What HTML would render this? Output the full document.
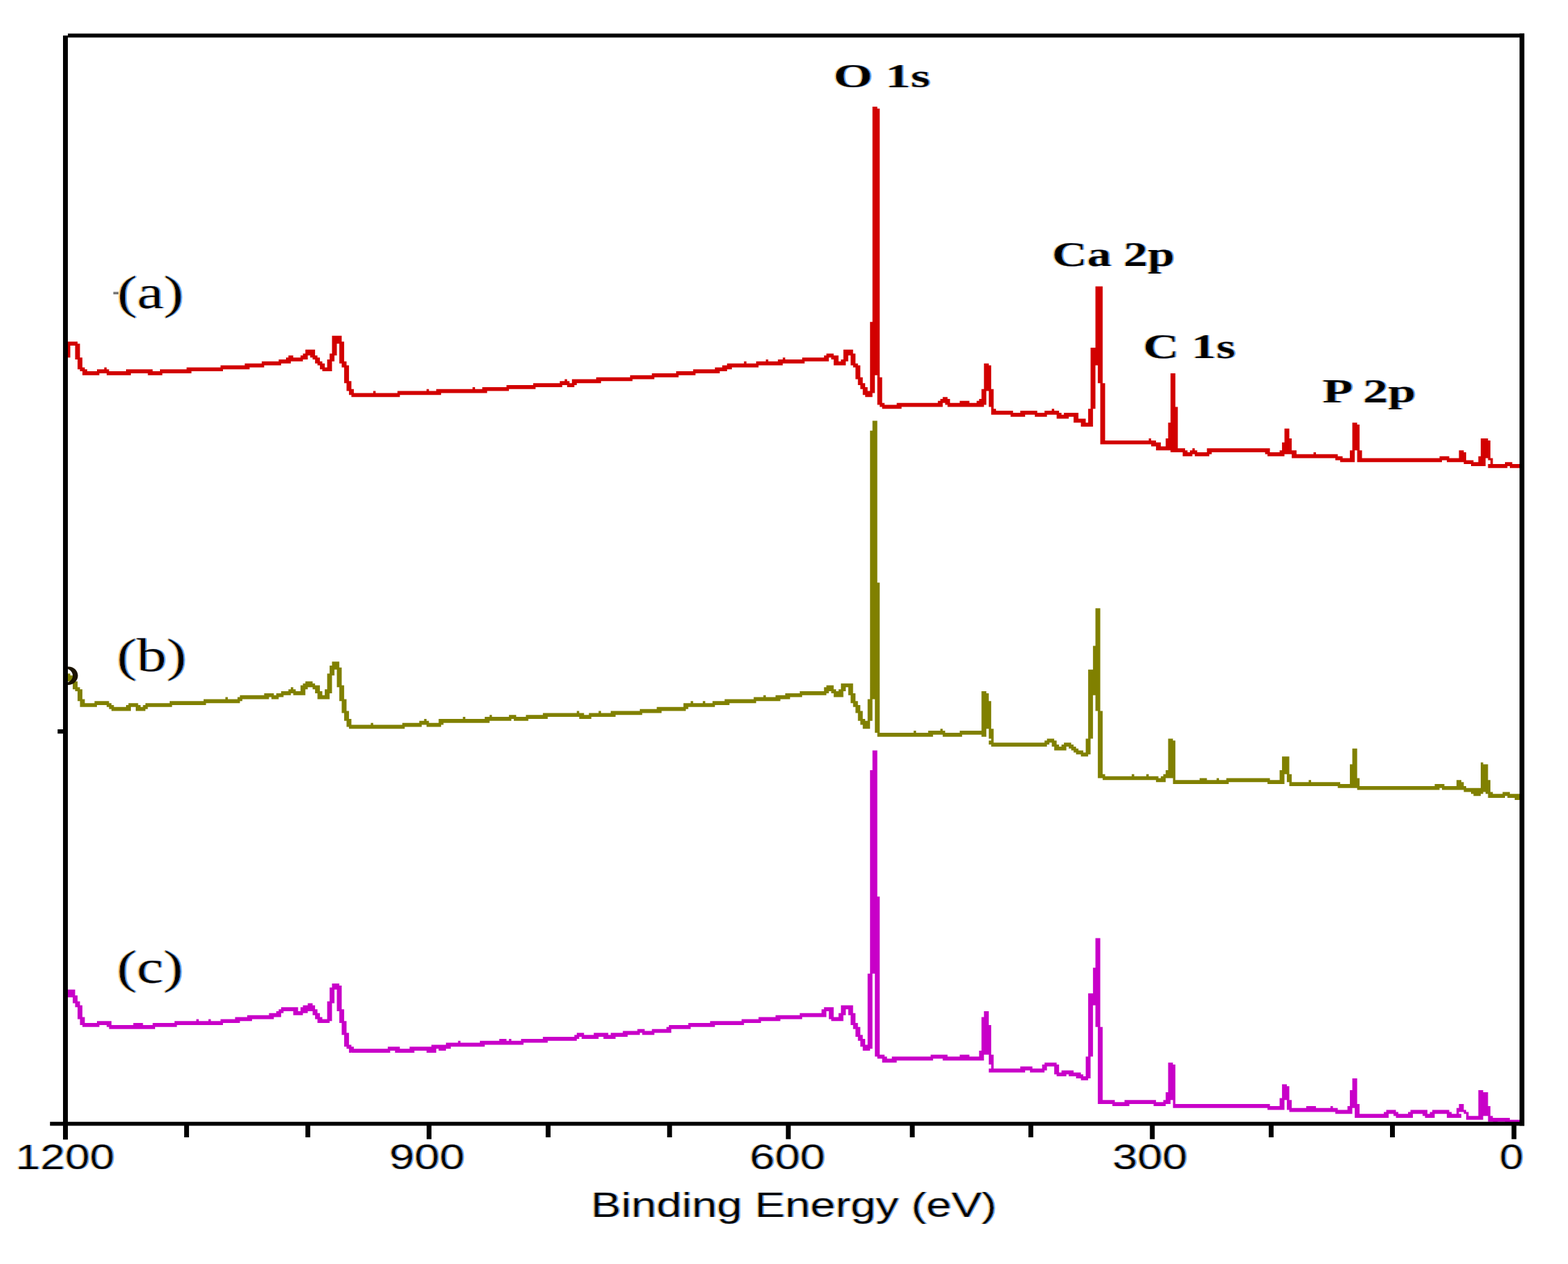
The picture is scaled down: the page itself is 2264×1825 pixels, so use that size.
<!DOCTYPE html>
<html lang="en">
<head>
<meta charset="utf-8">
<title>XPS survey spectra</title>
<style>
html,body{margin:0;padding:0;background:#fff;}
body{width:2264px;height:1825px;overflow:hidden;}
svg{display:block;}
</style>
</head>
<body>
<svg width="2264" height="1825" viewBox="0 0 2264 1825">
<rect width="2264" height="1825" fill="#fff"/>
<g id="curve-a">
<path d="M94.48 493.32H101.48V516.13H94.48zM101.48 493.32H108.48V499.02H101.48zM108.48 493.32H111.98V518.98H108.48zM111.98 496.17H115.47V533.24H111.98zM115.47 516.13H118.97V536.09H115.47zM118.97 530.39H122.47V541.8H118.97zM122.47 533.24H125.97V541.8H122.47zM125.97 536.09H139.97V541.8H125.97zM139.97 533.24H143.47V541.8H139.97zM143.47 533.24H150.47V538.95H143.47zM150.47 530.39H153.97V538.95H150.47zM153.97 533.24H157.47V541.8H153.97zM157.47 536.09H181.96V541.8H157.47zM181.96 533.24H188.96V541.8H181.96zM188.96 533.24H213.45V538.95H188.96zM213.45 533.24H220.45V541.8H213.45zM220.45 536.09H230.95V541.8H220.45zM230.95 533.24H234.45V541.8H230.95zM234.45 533.24H269.44V538.95H234.45zM269.44 530.39H276.44V538.95H269.44zM276.44 530.39H318.43V536.09H276.44zM318.43 527.54H321.93V536.09H318.43zM321.93 527.54H353.42V533.24H321.93zM353.42 524.69H360.42V533.24H353.42zM360.42 524.69H377.92V530.39H360.42zM377.92 521.84H381.42V530.39H377.92zM381.42 521.84H402.41V527.54H381.42zM402.41 518.98H405.91V527.54H402.41zM405.91 518.98H412.91V524.69H405.91zM412.91 516.13H416.41V524.69H412.91zM416.41 513.28H419.91V524.69H416.41zM419.91 513.28H423.41V521.84H419.91zM423.41 516.13H433.9V521.84H423.41zM433.9 513.28H437.4V521.84H433.9zM437.4 510.43H440.9V518.98H437.4zM440.9 504.73H444.4V518.98H440.9zM444.4 504.73H447.9V513.28H444.4zM447.9 504.73H451.4V516.13H447.9zM451.4 504.73H454.9V518.98H451.4zM454.9 513.28H458.4V524.69H454.9zM458.4 516.13H461.9V527.54H458.4zM461.9 521.84H465.4V533.24H461.9zM465.4 524.69H468.9V536.09H465.4zM468.9 530.39H472.4V536.09H468.9zM472.4 518.98H475.89V536.09H472.4zM475.89 510.43H479.39V536.09H475.89zM479.39 484.77H482.89V521.84H479.39zM482.89 484.77H486.39V513.28H482.89zM486.39 484.77H489.89V496.17H486.39zM489.89 484.77H493.39V524.69H489.89zM493.39 493.32H496.89V530.39H493.39zM496.89 521.84H500.39V553.2H496.89zM500.39 527.54H503.89V564.61H500.39zM503.89 550.35H507.39V570.31H503.89zM507.39 561.76H510.89V573.16H507.39zM510.89 567.46H538.88V573.16H510.89zM538.88 564.61H542.38V573.16H538.88zM542.38 567.46H573.87V573.16H542.38zM573.87 564.61H577.37V573.16H573.87zM577.37 564.61H615.86V570.31H577.37zM615.86 561.76H619.36V570.31H615.86zM619.36 564.61H629.86V570.31H619.36zM629.86 561.76H636.86V570.31H629.86zM636.86 561.76H682.35V567.46H636.86zM682.35 558.91H685.85V567.46H682.35zM685.85 561.76H696.35V567.46H685.85zM696.35 558.91H703.34V567.46H696.35zM703.34 558.91H731.34V564.61H703.34zM731.34 556.05H734.84V564.61H731.34zM734.84 556.05H769.83V561.76H734.84zM769.83 553.2H773.33V561.76H769.83zM773.33 553.2H808.32V558.91H773.33zM808.32 550.35H811.82V558.91H808.32zM811.82 550.35H815.32V556.05H811.82zM815.32 547.5H818.82V556.05H815.32zM818.82 550.35H822.32V558.91H818.82zM822.32 553.2H825.82V558.91H822.32zM825.82 547.5H829.32V558.91H825.82zM829.32 547.5H832.82V556.05H829.32zM832.82 547.5H860.81V553.2H832.82zM860.81 544.65H867.81V553.2H860.81zM867.81 544.65H909.8V550.35H867.81zM909.8 541.8H913.3V550.35H909.8zM913.3 541.8H941.29V547.5H913.3zM941.29 538.95H944.79V547.5H941.29zM944.79 538.95H976.28V544.65H944.79zM976.28 536.09H979.78V544.65H976.28zM979.78 536.09H1000.78V541.8H979.78zM1000.78 533.24H1004.28V541.8H1000.78zM1004.28 533.24H1032.27V538.95H1004.28zM1032.27 530.39H1039.27V538.95H1032.27zM1039.27 530.39H1042.77V536.09H1039.27zM1042.77 527.54H1049.77V536.09H1042.77zM1049.77 524.69H1056.77V533.24H1049.77zM1056.77 524.69H1074.26V530.39H1056.77zM1074.26 521.84H1077.76V530.39H1074.26zM1077.76 524.69H1091.76V530.39H1077.76zM1091.76 521.84H1095.26V530.39H1091.76zM1095.26 521.84H1105.76V527.54H1095.26zM1105.76 518.98H1109.26V527.54H1105.76zM1109.26 521.84H1123.25V527.54H1109.26zM1123.25 518.98H1130.25V527.54H1123.25zM1130.25 516.13H1133.75V524.69H1130.25zM1133.75 518.98H1158.24V524.69H1133.75zM1158.24 516.13H1161.74V524.69H1158.24zM1161.74 516.13H1189.74V521.84H1161.74zM1189.74 513.28H1193.24V521.84H1189.74zM1193.24 510.43H1196.74V521.84H1193.24zM1196.74 510.43H1200.23V516.13H1196.74zM1200.23 510.43H1203.73V518.98H1200.23zM1203.73 513.28H1210.73V527.54H1203.73zM1210.73 521.84H1214.23V527.54H1210.73zM1214.23 518.98H1217.73V527.54H1214.23zM1217.73 504.73H1221.23V527.54H1217.73zM1221.23 504.73H1224.73V521.84H1221.23zM1224.73 504.73H1228.23V513.28H1224.73zM1228.23 504.73H1231.73V527.54H1228.23zM1231.73 510.43H1235.23V530.39H1231.73zM1235.23 524.69H1238.73V547.5H1235.23zM1238.73 527.54H1242.23V556.05H1238.73zM1242.23 544.65H1245.72V561.76H1242.23zM1245.72 553.2H1249.22V570.31H1245.72zM1249.22 558.91H1252.72V573.16H1249.22zM1252.72 564.61H1256.22V573.16H1252.72zM1256.22 464.8H1259.72V573.16H1256.22zM1259.72 153.98H1263.22V567.46H1259.72zM1263.22 153.98H1266.72V541.8H1263.22zM1266.72 156.84H1270.22V584.57H1266.72zM1270.22 544.65H1273.72V587.42H1270.22zM1273.72 581.72H1277.22V590.27H1273.72zM1277.22 584.57H1294.71V590.27H1277.22zM1294.71 581.72H1301.71V590.27H1294.71zM1301.71 581.72H1354.2V587.42H1301.71zM1354.2 578.87H1357.7V587.42H1354.2zM1357.7 576.02H1361.2V587.42H1357.7zM1361.2 573.16H1364.7V581.72H1361.2zM1364.7 573.16H1368.2V584.57H1364.7zM1368.2 576.02H1371.7V587.42H1368.2zM1371.7 581.72H1385.69V587.42H1371.7zM1385.69 578.87H1399.69V587.42H1385.69zM1399.69 581.72H1410.19V587.42H1399.69zM1410.19 578.87H1413.69V587.42H1410.19zM1413.69 576.02H1417.19V587.42H1413.69zM1417.19 561.76H1420.69V587.42H1417.19zM1420.69 524.69H1424.19V584.57H1420.69zM1424.19 524.69H1427.68V564.61H1424.19zM1427.68 527.54H1431.18V587.42H1427.68zM1431.18 561.76H1434.68V598.83H1431.18zM1434.68 590.27H1438.18V598.83H1434.68zM1438.18 593.12H1459.18V598.83H1438.18zM1459.18 593.12H1462.68V601.68H1459.18zM1462.68 595.98H1473.17V601.68H1462.68zM1473.17 593.12H1480.17V601.68H1473.17zM1480.17 593.12H1494.17V598.83H1480.17zM1494.17 593.12H1497.67V601.68H1494.17zM1497.67 595.98H1508.17V601.68H1497.67zM1508.17 593.12H1511.67V601.68H1508.17zM1511.67 593.12H1518.66V598.83H1511.67zM1518.66 590.27H1522.16V598.83H1518.66zM1522.16 593.12H1525.66V598.83H1522.16zM1525.66 593.12H1529.16V604.53H1525.66zM1529.16 595.98H1532.66V604.53H1529.16zM1532.66 598.83H1536.16V604.53H1532.66zM1536.16 595.98H1543.16V604.53H1536.16zM1543.16 595.98H1550.16V601.68H1543.16zM1550.16 595.98H1557.16V610.23H1550.16zM1557.16 604.53H1560.66V610.23H1557.16zM1560.66 604.53H1567.65V615.94H1560.66zM1567.65 610.23H1571.15V615.94H1567.65zM1571.15 590.27H1574.65V615.94H1571.15zM1574.65 501.88H1578.15V615.94H1574.65zM1578.15 501.88H1581.65V590.27H1578.15zM1581.65 413.48H1585.15V527.54H1581.65zM1585.15 413.48H1588.65V553.2H1585.15zM1588.65 413.48H1592.15V641.6H1588.65zM1592.15 553.2H1595.65V641.6H1592.15zM1595.65 635.9H1658.63V641.6H1595.65zM1658.63 633.05H1662.13V641.6H1658.63zM1662.13 635.9H1669.13V644.45H1662.13zM1669.13 638.75H1676.13V650.16H1669.13zM1676.13 644.45H1683.13V650.16H1676.13zM1683.13 633.05H1686.63V650.16H1683.13zM1686.63 610.23H1690.13V650.16H1686.63zM1690.13 538.95H1697.13V653.01H1690.13zM1697.13 587.42H1700.62V653.01H1697.13zM1700.62 647.3H1707.62V653.01H1700.62zM1707.62 647.3H1711.12V658.71H1707.62zM1711.12 650.16H1714.62V658.71H1711.12zM1714.62 653.01H1718.12V658.71H1714.62zM1718.12 650.16H1721.62V658.71H1718.12zM1721.62 647.3H1725.12V655.86H1721.62zM1725.12 650.16H1728.62V658.71H1725.12zM1728.62 653.01H1742.62V658.71H1728.62zM1742.62 647.3H1746.11V658.71H1742.62zM1746.11 647.3H1749.61V655.86H1746.11zM1749.61 647.3H1826.6V653.01H1749.61zM1826.6 647.3H1830.1V655.86H1826.6zM1830.1 647.3H1833.6V658.71H1830.1zM1833.6 653.01H1847.59V658.71H1833.6zM1847.59 650.16H1851.09V658.71H1847.59zM1851.09 638.75H1854.59V658.71H1851.09zM1854.59 618.79H1861.59V655.86H1854.59zM1861.59 633.05H1865.09V655.86H1861.59zM1865.09 650.16H1872.09V661.56H1865.09zM1872.09 655.86H1896.58V661.56H1872.09zM1896.58 653.01H1900.08V661.56H1896.58zM1900.08 655.86H1928.07V661.56H1900.08zM1928.07 655.86H1931.57V664.41H1928.07zM1931.57 658.71H1935.07V664.41H1931.57zM1935.07 658.71H1938.57V667.27H1935.07zM1938.57 661.56H1949.07V667.27H1938.57zM1949.07 650.16H1952.57V667.27H1949.07zM1952.57 610.23H1956.07V667.27H1952.57zM1956.07 610.23H1959.57V650.16H1956.07zM1959.57 613.09H1963.07V667.27H1959.57zM1963.07 650.16H1966.57V667.27H1963.07zM1966.57 661.56H2078.54V667.27H1966.57zM2078.54 658.71H2082.04V667.27H2078.54zM2082.04 658.71H2089.04V664.41H2082.04zM2089.04 658.71H2092.54V667.27H2089.04zM2092.54 661.56H2106.53V667.27H2092.54zM2106.53 650.16H2113.53V667.27H2106.53zM2113.53 653.01H2117.03V670.12H2113.53zM2117.03 664.41H2124.03V670.12H2117.03zM2124.03 664.41H2127.53V672.97H2124.03zM2127.53 667.27H2134.53V672.97H2127.53zM2134.53 658.71H2138.03V672.97H2134.53zM2138.03 633.05H2145.03V672.97H2138.03zM2145.03 633.05H2148.53V661.56H2145.03zM2148.53 635.9H2152.02V664.41H2148.53zM2148.53 670.12H2152.02V675.82H2148.53zM2152.02 661.56H2155.52V675.82H2152.02zM2155.52 670.12H2173.02V675.82H2155.52zM2173.02 667.27H2176.52V675.82H2173.02zM2176.52 667.27H2180.02V672.97H2176.52zM2180.02 667.27H2183.52V675.82H2180.02zM2183.52 670.12H2197.51V675.82H2183.52z" fill="#d20000"/>
</g>
<g id="curve-b">
<path d="M94.48 972.38H97.98V978.09H94.48zM97.98 972.38H101.48V983.79H97.98zM101.48 975.23H104.98V986.64H101.48zM104.98 980.94H108.48V995.2H104.98zM108.48 983.79H111.98V998.05H108.48zM111.98 992.34H115.47V1012.3H111.98zM115.47 995.2H118.97V1020.86H115.47zM118.97 1009.45H122.47V1020.86H118.97zM122.47 1015.16H136.47V1020.86H122.47zM136.47 1012.3H139.97V1020.86H136.47zM139.97 1012.3H153.97V1018.01H139.97zM153.97 1012.3H157.47V1020.86H153.97zM157.47 1015.16H160.96V1023.71H157.47zM160.96 1018.01H164.46V1026.56H160.96zM164.46 1020.86H181.96V1026.56H164.46zM181.96 1018.01H185.46V1026.56H181.96zM185.46 1015.16H188.96V1026.56H185.46zM188.96 1015.16H195.96V1020.86H188.96zM195.96 1015.16H199.46V1026.56H195.96zM199.46 1018.01H202.96V1026.56H199.46zM202.96 1020.86H206.45V1026.56H202.96zM206.45 1018.01H209.95V1026.56H206.45zM209.95 1015.16H213.45V1023.71H209.95zM213.45 1015.16H244.95V1020.86H213.45zM244.95 1012.3H248.45V1020.86H244.95zM248.45 1012.3H293.94V1018.01H248.45zM293.94 1009.45H297.43V1018.01H293.94zM297.43 1009.45H325.43V1015.16H297.43zM325.43 1006.6H328.93V1015.16H325.43zM328.93 1009.45H342.92V1015.16H328.93zM342.92 1006.6H346.42V1015.16H342.92zM346.42 1003.75H349.92V1012.3H346.42zM349.92 1003.75H381.42V1009.45H349.92zM381.42 1000.9H388.41V1009.45H381.42zM388.41 1000.9H391.91V1006.6H388.41zM391.91 1000.9H395.41V1009.45H391.91zM395.41 1003.75H398.91V1009.45H395.41zM398.91 1000.9H402.41V1009.45H398.91zM402.41 1000.9H405.91V1006.6H402.41zM405.91 998.05H409.41V1006.6H405.91zM409.41 998.05H416.41V1003.75H409.41zM416.41 995.2H419.91V1003.75H416.41zM419.91 992.34H423.41V1000.9H419.91zM423.41 995.2H426.91V1003.75H423.41zM426.91 998.05H433.9V1003.75H426.91zM433.9 989.49H437.4V1003.75H433.9zM437.4 986.64H440.9V1003.75H437.4zM440.9 983.79H444.4V995.2H440.9zM444.4 983.79H451.4V992.34H444.4zM451.4 986.64H454.9V995.2H451.4zM454.9 989.49H458.4V1000.9H454.9zM458.4 989.49H461.9V1009.45H458.4zM461.9 998.05H465.4V1009.45H461.9zM465.4 1003.75H468.9V1009.45H465.4zM468.9 995.2H472.4V1009.45H468.9zM472.4 972.38H475.89V1009.45H472.4zM475.89 960.98H479.39V1000.9H475.89zM479.39 955.27H482.89V975.23H479.39zM482.89 955.27H486.39V966.68H482.89zM486.39 955.27H489.89V992.34H486.39zM489.89 963.83H493.39V1012.3H489.89zM493.39 989.49H496.89V1029.41H493.39zM496.89 1009.45H500.39V1040.82H496.89zM500.39 1026.56H503.89V1049.38H500.39zM503.89 1037.97H507.39V1052.23H503.89zM507.39 1046.52H535.38V1052.23H507.39zM535.38 1043.67H538.88V1052.23H535.38zM538.88 1046.52H580.87V1052.23H538.88zM580.87 1043.67H584.37V1052.23H580.87zM584.37 1043.67H605.37V1049.38H584.37zM605.37 1040.82H608.87V1049.38H605.37zM608.87 1040.82H612.36V1046.52H608.87zM612.36 1037.97H615.86V1046.52H612.36zM615.86 1040.82H619.36V1049.38H615.86zM619.36 1043.67H633.36V1049.38H619.36zM633.36 1037.97H636.86V1049.38H633.36zM636.86 1037.97H640.36V1046.52H636.86zM640.36 1037.97H668.35V1043.67H640.36zM668.35 1035.12H671.85V1043.67H668.35zM671.85 1037.97H699.85V1043.67H671.85zM699.85 1035.12H706.84V1043.67H699.85zM706.84 1032.27H710.34V1040.82H706.84zM710.34 1035.12H734.84V1040.82H710.34zM734.84 1032.27H738.34V1040.82H734.84zM738.34 1032.27H741.84V1037.97H738.34zM741.84 1032.27H745.34V1040.82H741.84zM745.34 1035.12H759.33V1040.82H745.34zM759.33 1032.27H762.83V1040.82H759.33zM762.83 1032.27H783.83V1037.97H762.83zM783.83 1029.41H790.83V1037.97H783.83zM790.83 1029.41H832.82V1035.12H790.83zM832.82 1026.56H836.32V1035.12H832.82zM836.32 1029.41H843.31V1037.97H836.32zM843.31 1032.27H850.31V1037.97H843.31zM850.31 1029.41H853.81V1037.97H850.31zM853.81 1029.41H864.31V1035.12H853.81zM864.31 1026.56H867.81V1035.12H864.31zM867.81 1029.41H881.81V1035.12H867.81zM881.81 1026.56H888.8V1035.12H881.81zM888.8 1026.56H923.8V1032.27H888.8zM923.8 1023.71H927.3V1032.27H923.8zM927.3 1023.71H948.29V1029.41H927.3zM948.29 1020.86H955.29V1029.41H948.29zM955.29 1020.86H986.78V1026.56H955.29zM986.78 1015.16H990.28V1026.56H986.78zM990.28 1015.16H993.78V1023.71H990.28zM993.78 1015.16H997.28V1020.86H993.78zM997.28 1012.3H1000.78V1020.86H997.28zM1000.78 1015.16H1014.78V1020.86H1000.78zM1014.78 1012.3H1018.28V1020.86H1014.78zM1018.28 1015.16H1028.77V1020.86H1018.28zM1028.77 1012.3H1032.27V1020.86H1028.77zM1032.27 1012.3H1046.27V1018.01H1032.27zM1046.27 1009.45H1053.27V1018.01H1046.27zM1053.27 1009.45H1088.26V1015.16H1053.27zM1088.26 1006.6H1091.76V1015.16H1088.26zM1091.76 1006.6H1102.26V1012.3H1091.76zM1102.26 1003.75H1105.76V1012.3H1102.26zM1105.76 1006.6H1119.75V1012.3H1105.76zM1119.75 1003.75H1126.75V1012.3H1119.75zM1126.75 1003.75H1133.75V1009.45H1126.75zM1133.75 1000.9H1140.75V1009.45H1133.75zM1140.75 1000.9H1154.74V1006.6H1140.75zM1154.74 998.05H1158.24V1006.6H1154.74zM1158.24 998.05H1189.74V1003.75H1158.24zM1189.74 992.34H1193.24V1003.75H1189.74zM1193.24 989.49H1196.74V1000.9H1193.24zM1196.74 989.49H1200.23V998.05H1196.74zM1200.23 989.49H1203.73V1000.9H1200.23zM1203.73 995.2H1207.23V1006.6H1203.73zM1207.23 998.05H1210.73V1006.6H1207.23zM1210.73 995.2H1214.23V1006.6H1210.73zM1214.23 986.64H1217.73V1006.6H1214.23zM1217.73 986.64H1221.23V998.05H1217.73zM1221.23 986.64H1224.73V992.34H1221.23zM1224.73 986.64H1228.23V1003.75H1224.73zM1228.23 986.64H1231.73V1015.16H1228.23zM1231.73 1000.9H1235.23V1020.86H1231.73zM1235.23 1012.3H1238.73V1029.41H1235.23zM1238.73 1018.01H1242.23V1040.82H1238.73zM1242.23 1026.56H1245.72V1046.52H1242.23zM1245.72 1037.97H1249.22V1052.23H1245.72zM1249.22 1040.82H1252.72V1052.23H1249.22zM1252.72 1009.45H1256.22V1052.23H1252.72zM1256.22 621.64H1259.72V1040.82H1256.22zM1259.72 607.38H1263.22V1009.45H1259.72zM1263.22 607.38H1266.72V1057.93H1263.22zM1266.72 841.21H1270.22V1063.63H1266.72zM1270.22 1057.93H1319.21V1063.63H1270.22zM1319.21 1055.08H1322.71V1063.63H1319.21zM1322.71 1057.93H1340.2V1063.63H1322.71zM1340.2 1055.08H1347.2V1063.63H1340.2zM1347.2 1055.08H1357.7V1060.78H1347.2zM1357.7 1052.23H1361.2V1060.78H1357.7zM1361.2 1055.08H1364.7V1063.63H1361.2zM1364.7 1057.93H1385.69V1063.63H1364.7zM1385.69 1055.08H1389.19V1063.63H1385.69zM1389.19 1055.08H1417.19V1060.78H1389.19zM1417.19 998.05H1424.19V1063.63H1417.19zM1424.19 1000.9H1427.68V1052.23H1424.19zM1427.68 1012.3H1431.18V1066.48H1427.68zM1427.68 1069.34H1431.18V1075.04H1427.68zM1431.18 1052.23H1434.68V1077.89H1431.18zM1434.68 1072.19H1508.17V1077.89H1434.68zM1508.17 1069.34H1511.67V1077.89H1508.17zM1511.67 1066.48H1515.17V1075.04H1511.67zM1515.17 1066.48H1518.66V1072.19H1515.17zM1518.66 1066.48H1522.16V1077.89H1518.66zM1522.16 1069.34H1525.66V1083.59H1522.16zM1525.66 1075.04H1529.16V1083.59H1525.66zM1529.16 1077.89H1532.66V1083.59H1529.16zM1532.66 1075.04H1536.16V1083.59H1532.66zM1536.16 1072.19H1539.66V1083.59H1536.16zM1539.66 1072.19H1543.16V1077.89H1539.66zM1543.16 1072.19H1546.66V1080.74H1543.16zM1546.66 1075.04H1550.16V1083.59H1546.66zM1550.16 1077.89H1553.66V1086.45H1550.16zM1553.66 1080.74H1557.16V1089.3H1553.66zM1557.16 1083.59H1560.66V1089.3H1557.16zM1560.66 1083.59H1564.15V1092.15H1560.66zM1564.15 1086.45H1567.65V1092.15H1564.15zM1567.65 1066.48H1571.15V1092.15H1567.65zM1571.15 966.68H1574.65V1089.3H1571.15zM1574.65 966.68H1578.15V1066.48H1574.65zM1578.15 932.46H1581.65V1003.75H1578.15zM1581.65 878.28H1585.15V1026.56H1581.65zM1585.15 878.28H1588.65V1123.52H1585.15zM1588.65 1026.56H1592.15V1123.52H1588.65zM1592.15 1117.81H1595.65V1126.37H1592.15zM1595.65 1120.66H1634.14V1126.37H1595.65zM1634.14 1117.81H1637.64V1126.37H1634.14zM1637.64 1120.66H1655.13V1126.37H1637.64zM1655.13 1117.81H1658.63V1126.37H1655.13zM1658.63 1120.66H1669.13V1126.37H1658.63zM1669.13 1120.66H1672.63V1129.22H1669.13zM1672.63 1123.52H1676.13V1129.22H1672.63zM1676.13 1120.66H1679.63V1129.22H1676.13zM1679.63 1117.81H1683.13V1129.22H1679.63zM1683.13 1112.11H1686.63V1123.52H1683.13zM1686.63 1066.48H1693.63V1123.52H1686.63zM1693.63 1069.34H1697.13V1132.07H1693.63zM1697.13 1126.37H1732.12V1132.07H1697.13zM1732.12 1123.52H1742.62V1132.07H1732.12zM1742.62 1126.37H1756.61V1132.07H1742.62zM1756.61 1123.52H1760.11V1132.07H1756.61zM1760.11 1126.37H1770.61V1132.07H1760.11zM1770.61 1123.52H1774.11V1132.07H1770.61zM1774.11 1123.52H1830.1V1129.22H1774.11zM1830.1 1123.52H1833.6V1132.07H1830.1zM1833.6 1126.37H1847.59V1132.07H1833.6zM1847.59 1112.11H1851.09V1132.07H1847.59zM1851.09 1092.15H1854.59V1132.07H1851.09zM1854.59 1092.15H1858.09V1117.81H1854.59zM1858.09 1092.15H1861.59V1129.22H1858.09zM1861.59 1117.81H1865.09V1134.92H1861.59zM1865.09 1129.22H1889.58V1134.92H1865.09zM1889.58 1126.37H1893.08V1134.92H1889.58zM1893.08 1129.22H1931.57V1134.92H1893.08zM1931.57 1129.22H1935.07V1137.77H1931.57zM1935.07 1132.07H1949.07V1137.77H1935.07zM1949.07 1103.55H1952.57V1137.77H1949.07zM1952.57 1080.74H1959.57V1137.77H1952.57zM1959.57 1123.52H1963.07V1140.62H1959.57zM1963.07 1134.92H2071.54V1140.62H1963.07zM2071.54 1132.07H2078.54V1140.62H2071.54zM2078.54 1132.07H2082.04V1137.77H2078.54zM2082.04 1132.07H2085.54V1140.62H2082.04zM2085.54 1134.92H2103.04V1140.62H2085.54zM2103.04 1126.37H2110.03V1140.62H2103.04zM2110.03 1129.22H2113.53V1140.62H2110.03zM2113.53 1134.92H2117.03V1143.48H2113.53zM2117.03 1137.77H2124.03V1143.48H2117.03zM2124.03 1137.77H2127.53V1146.33H2124.03zM2127.53 1137.77H2138.03V1149.18H2127.53zM2138.03 1100.7H2141.53V1146.33H2138.03zM2141.53 1103.55H2145.03V1143.48H2141.53zM2145.03 1103.55H2148.53V1146.33H2145.03zM2148.53 1126.37H2152.02V1152.03H2148.53zM2152.02 1143.48H2155.52V1152.03H2152.02zM2155.52 1146.33H2169.52V1152.03H2155.52zM2169.52 1143.48H2173.02V1152.03H2169.52zM2173.02 1143.48H2176.52V1149.18H2173.02zM2176.52 1143.48H2180.02V1152.03H2176.52zM2180.02 1146.33H2187.02V1152.03H2180.02zM2187.02 1146.33H2194.02V1154.88H2187.02zM2194.02 1149.18H2197.51V1154.88H2194.02z" fill="#808000"/>
<path d="M98 962.5 C106 962 112.5 968 112.5 975.5 C112.5 983 106 989 98 989 L98 985 C103 983 105 979 105 975.5 C105 972 103 968 98 966 Z" fill="#1a1200"/>
<rect x="163.6" y="421.4" width="7.4" height="3.6" fill="#777"/>
</g>
<g id="curve-c">
<path d="M94.48 1431.48H97.98V1437.19H94.48zM97.98 1428.63H104.98V1440.04H97.98zM104.98 1428.63H108.48V1448.59H104.98zM108.48 1437.19H111.98V1454.3H108.48zM111.98 1445.74H115.47V1471.41H111.98zM115.47 1451.45H118.97V1479.96H115.47zM118.97 1468.55H122.47V1482.81H118.97zM122.47 1477.11H139.97V1482.81H122.47zM139.97 1474.26H143.47V1482.81H139.97zM143.47 1474.26H153.97V1479.96H143.47zM153.97 1474.26H157.47V1482.81H153.97zM157.47 1474.26H160.96V1485.66H157.47zM160.96 1479.96H192.46V1485.66H160.96zM192.46 1477.11H206.45V1485.66H192.46zM206.45 1479.96H220.45V1485.66H206.45zM220.45 1477.11H223.95V1485.66H220.45zM223.95 1477.11H251.94V1482.81H223.95zM251.94 1474.26H255.44V1482.81H251.94zM255.44 1474.26H283.44V1479.96H255.44zM283.44 1471.41H286.94V1479.96H283.44zM286.94 1474.26H300.93V1479.96H286.94zM300.93 1471.41H304.43V1479.96H300.93zM304.43 1474.26H318.43V1479.96H304.43zM318.43 1471.41H321.93V1479.96H318.43zM321.93 1471.41H339.43V1477.11H321.93zM339.43 1468.55H346.42V1477.11H339.43zM346.42 1468.55H356.92V1474.26H346.42zM356.92 1465.7H363.92V1474.26H356.92zM363.92 1465.7H388.41V1471.41H363.92zM388.41 1462.85H395.41V1471.41H388.41zM395.41 1462.85H398.91V1468.55H395.41zM398.91 1460H402.41V1468.55H398.91zM402.41 1457.15H405.91V1468.55H402.41zM405.91 1454.3H409.41V1462.85H405.91zM409.41 1454.3H423.41V1460H409.41zM423.41 1454.3H430.4V1465.7H423.41zM430.4 1460H433.9V1465.7H430.4zM433.9 1454.3H437.4V1465.7H433.9zM437.4 1451.45H444.4V1462.85H437.4zM444.4 1448.59H451.4V1460H444.4zM451.4 1451.45H454.9V1465.7H451.4zM454.9 1457.15H458.4V1471.41H454.9zM458.4 1462.85H461.9V1477.11H458.4zM461.9 1468.55H465.4V1477.11H461.9zM465.4 1471.41H472.4V1477.11H465.4zM472.4 1445.74H475.89V1477.11H472.4zM475.89 1425.78H479.39V1474.26H475.89zM479.39 1420.08H482.89V1448.59H479.39zM482.89 1420.08H486.39V1428.63H482.89zM486.39 1420.08H489.89V1460H486.39zM489.89 1422.93H493.39V1477.11H489.89zM493.39 1457.15H496.89V1494.22H493.39zM496.89 1474.26H500.39V1511.33H496.89zM500.39 1491.37H503.89V1514.18H500.39zM503.89 1508.48H507.39V1519.88H503.89zM507.39 1511.33H510.89V1519.88H507.39zM510.89 1514.18H559.88V1519.88H510.89zM559.88 1511.33H563.38V1519.88H559.88zM563.38 1511.33H570.37V1517.03H563.38zM570.37 1511.33H577.37V1519.88H570.37zM577.37 1514.18H591.37V1519.88H577.37zM591.37 1511.33H598.37V1519.88H591.37zM598.37 1511.33H615.86V1517.03H598.37zM615.86 1511.33H622.86V1519.88H615.86zM622.86 1508.48H629.86V1519.88H622.86zM629.86 1508.48H633.36V1514.18H629.86zM633.36 1508.48H643.86V1517.03H633.36zM643.86 1505.62H650.86V1514.18H643.86zM650.86 1505.62H661.35V1511.33H650.86zM661.35 1502.77H664.85V1511.33H661.35zM664.85 1505.62H692.85V1511.33H664.85zM692.85 1502.77H699.85V1511.33H692.85zM699.85 1502.77H720.84V1508.48H699.85zM720.84 1499.92H731.34V1508.48H720.84zM731.34 1502.77H734.84V1508.48H731.34zM734.84 1499.92H738.34V1508.48H734.84zM738.34 1502.77H752.33V1508.48H738.34zM752.33 1499.92H755.83V1508.48H752.33zM755.83 1499.92H783.83V1505.62H755.83zM783.83 1497.07H790.83V1505.62H783.83zM790.83 1497.07H829.32V1502.77H790.83zM829.32 1494.22H832.82V1502.77H829.32zM832.82 1491.37H836.32V1499.92H832.82zM836.32 1491.37H839.81V1497.07H836.32zM839.81 1491.37H843.31V1499.92H839.81zM843.31 1494.22H857.31V1499.92H843.31zM857.31 1491.37H864.31V1499.92H857.31zM864.31 1491.37H871.31V1497.07H864.31zM871.31 1491.37H878.31V1499.92H871.31zM878.31 1494.22H881.81V1499.92H878.31zM881.81 1491.37H888.8V1499.92H881.81zM888.8 1491.37H899.3V1497.07H888.8zM899.3 1488.52H906.3V1497.07H899.3zM906.3 1488.52H920.3V1494.22H906.3zM920.3 1485.66H923.8V1494.22H920.3zM923.8 1485.66H927.3V1491.37H923.8zM927.3 1485.66H930.79V1494.22H927.3zM930.79 1488.52H941.29V1494.22H930.79zM941.29 1485.66H944.79V1494.22H941.29zM944.79 1485.66H962.29V1491.37H944.79zM962.29 1482.81H965.79V1491.37H962.29zM965.79 1479.96H969.29V1491.37H965.79zM969.29 1479.96H993.78V1485.66H969.29zM993.78 1477.11H997.28V1485.66H993.78zM997.28 1477.11H1025.27V1482.81H997.28zM1025.27 1474.26H1032.27V1482.81H1025.27zM1032.27 1474.26H1070.76V1479.96H1032.27zM1070.76 1471.41H1074.26V1479.96H1070.76zM1074.26 1471.41H1095.26V1477.11H1074.26zM1095.26 1468.55H1098.76V1477.11H1095.26zM1098.76 1468.55H1119.75V1474.26H1098.76zM1119.75 1465.7H1126.75V1474.26H1119.75zM1126.75 1465.7H1154.74V1471.41H1126.75zM1154.74 1462.85H1158.24V1471.41H1154.74zM1158.24 1462.85H1186.24V1468.55H1158.24zM1186.24 1457.15H1189.74V1468.55H1186.24zM1189.74 1454.3H1193.24V1468.55H1189.74zM1193.24 1454.3H1196.74V1460H1193.24zM1196.74 1454.3H1200.23V1471.41H1196.74zM1200.23 1454.3H1203.73V1474.26H1200.23zM1203.73 1468.55H1210.73V1474.26H1203.73zM1210.73 1462.85H1214.23V1474.26H1210.73zM1214.23 1451.45H1217.73V1474.26H1214.23zM1217.73 1451.45H1221.23V1465.7H1217.73zM1221.23 1451.45H1224.73V1457.15H1221.23zM1224.73 1451.45H1228.23V1465.7H1224.73zM1228.23 1451.45H1231.73V1479.96H1228.23zM1231.73 1462.85H1235.23V1485.66H1231.73zM1235.23 1477.11H1238.73V1497.07H1235.23zM1238.73 1482.81H1242.23V1502.77H1238.73zM1242.23 1494.22H1245.72V1511.33H1242.23zM1245.72 1499.92H1249.22V1517.03H1245.72zM1249.22 1508.48H1252.72V1517.03H1249.22zM1252.72 1405.82H1256.22V1517.03H1252.72zM1256.22 1112.11H1259.72V1514.18H1256.22zM1259.72 1083.59H1263.22V1405.82H1259.72zM1263.22 1083.59H1266.72V1525.59H1263.22zM1266.72 1294.61H1270.22V1528.44H1266.72zM1270.22 1522.73H1273.72V1528.44H1270.22zM1273.72 1522.73H1277.22V1534.14H1273.72zM1277.22 1525.59H1280.72V1534.14H1277.22zM1280.72 1528.44H1287.72V1534.14H1280.72zM1287.72 1525.59H1294.71V1534.14H1287.72zM1294.71 1525.59H1343.7V1531.29H1294.71zM1343.7 1522.73H1347.2V1531.29H1343.7zM1347.2 1522.73H1361.2V1528.44H1347.2zM1361.2 1522.73H1368.2V1531.29H1361.2zM1368.2 1525.59H1385.69V1531.29H1368.2zM1385.69 1522.73H1399.69V1531.29H1385.69zM1399.69 1525.59H1413.69V1531.29H1399.69zM1413.69 1517.03H1417.19V1531.29H1413.69zM1417.19 1468.55H1420.69V1531.29H1417.19zM1420.69 1460H1427.68V1522.73H1420.69zM1427.68 1479.96H1431.18V1536.99H1427.68zM1427.68 1542.7H1431.18V1548.4H1427.68zM1431.18 1522.73H1434.68V1548.4H1431.18zM1434.68 1542.7H1473.17V1548.4H1434.68zM1473.17 1539.84H1480.17V1548.4H1473.17zM1480.17 1539.84H1487.17V1545.55H1480.17zM1487.17 1539.84H1490.67V1548.4H1487.17zM1490.67 1542.7H1504.67V1548.4H1490.67zM1504.67 1536.99H1508.17V1548.4H1504.67zM1508.17 1534.14H1511.67V1545.55H1508.17zM1511.67 1534.14H1522.16V1539.84H1511.67zM1522.16 1534.14H1525.66V1551.25H1522.16zM1525.66 1536.99H1529.16V1554.1H1525.66zM1529.16 1548.4H1532.66V1554.1H1529.16zM1532.66 1545.55H1539.66V1554.1H1532.66zM1539.66 1545.55H1543.16V1551.25H1539.66zM1543.16 1545.55H1550.16V1554.1H1543.16zM1550.16 1548.4H1553.66V1554.1H1550.16zM1553.66 1548.4H1560.66V1556.95H1553.66zM1560.66 1551.25H1564.15V1559.8H1560.66zM1564.15 1554.1H1567.65V1559.8H1564.15zM1567.65 1525.59H1571.15V1559.8H1567.65zM1571.15 1434.34H1574.65V1556.95H1571.15zM1574.65 1434.34H1578.15V1525.59H1574.65zM1578.15 1397.27H1581.65V1451.45H1578.15zM1581.65 1354.49H1585.15V1482.81H1581.65zM1585.15 1354.49H1588.65V1594.02H1585.15zM1588.65 1482.81H1592.15V1594.02H1588.65zM1592.15 1588.32H1606.15V1594.02H1592.15zM1606.15 1588.32H1609.64V1596.88H1606.15zM1609.64 1591.17H1623.64V1596.88H1609.64zM1623.64 1588.32H1630.64V1596.88H1623.64zM1630.64 1588.32H1665.63V1594.02H1630.64zM1665.63 1588.32H1669.13V1596.88H1665.63zM1669.13 1591.17H1679.63V1596.88H1669.13zM1679.63 1588.32H1683.13V1596.88H1679.63zM1683.13 1576.91H1686.63V1594.02H1683.13zM1686.63 1534.14H1690.13V1594.02H1686.63zM1690.13 1534.14H1693.63V1588.32H1690.13zM1693.63 1536.99H1697.13V1599.73H1693.63zM1697.13 1594.02H1830.1V1599.73H1697.13zM1830.1 1594.02H1833.6V1602.58H1830.1zM1833.6 1596.88H1847.59V1602.58H1833.6zM1847.59 1585.47H1851.09V1602.58H1847.59zM1851.09 1565.51H1854.59V1602.58H1851.09zM1854.59 1565.51H1858.09V1588.32H1854.59zM1858.09 1568.36H1861.59V1602.58H1858.09zM1861.59 1588.32H1865.09V1605.43H1861.59zM1865.09 1599.73H1886.08V1605.43H1865.09zM1886.08 1596.88H1900.08V1605.43H1886.08zM1900.08 1599.73H1921.08V1605.43H1900.08zM1921.08 1596.88H1924.57V1605.43H1921.08zM1924.57 1599.73H1928.07V1605.43H1924.57zM1928.07 1599.73H1931.57V1608.28H1928.07zM1931.57 1602.58H1945.57V1608.28H1931.57zM1945.57 1596.88H1949.07V1608.28H1945.57zM1949.07 1574.06H1952.57V1608.28H1949.07zM1952.57 1556.95H1956.07V1599.73H1952.57zM1956.07 1556.95H1959.57V1613.98H1956.07zM1959.57 1594.02H1963.07V1613.98H1959.57zM1963.07 1608.28H1998.06V1613.98H1963.07zM1998.06 1605.43H2001.56V1613.98H1998.06zM2001.56 1602.58H2005.06V1613.98H2001.56zM2005.06 1602.58H2012.06V1608.28H2005.06zM2012.06 1602.58H2015.55V1611.13H2012.06zM2015.55 1605.43H2019.05V1613.98H2015.55zM2019.05 1608.28H2033.05V1613.98H2019.05zM2033.05 1605.43H2036.55V1613.98H2033.05zM2036.55 1602.58H2040.05V1613.98H2036.55zM2040.05 1602.58H2054.05V1608.28H2040.05zM2054.05 1602.58H2057.55V1611.13H2054.05zM2057.55 1602.58H2061.04V1613.98H2057.55zM2061.04 1608.28H2064.54V1613.98H2061.04zM2064.54 1605.43H2068.04V1613.98H2064.54zM2068.04 1602.58H2071.54V1613.98H2068.04zM2071.54 1602.58H2089.04V1608.28H2071.54zM2089.04 1602.58H2092.54V1613.98H2089.04zM2092.54 1605.43H2096.04V1613.98H2092.54zM2096.04 1608.28H2103.04V1613.98H2096.04zM2103.04 1599.73H2106.53V1613.98H2103.04zM2106.53 1608.28H2110.03V1613.98H2106.53zM2106.53 1594.02H2113.53V1605.43H2106.53zM2113.53 1602.58H2117.03V1608.28H2113.53zM2117.03 1605.43H2120.53V1616.84H2117.03zM2120.53 1611.13H2134.53V1616.84H2120.53zM2134.53 1574.06H2141.53V1616.84H2134.53zM2141.53 1576.91H2148.53V1611.13H2141.53zM2148.53 1596.88H2152.02V1619.69H2148.53zM2152.02 1611.13H2155.52V1619.69H2152.02zM2155.52 1613.98H2162.52V1622.54H2155.52zM2162.52 1613.98H2173.02V1619.69H2162.52zM2173.02 1613.98H2180.02V1622.54H2173.02zM2180.02 1616.84H2197.51V1622.54H2180.02z" fill="#c800c8"/>
</g>
<g id="axes" fill="#000">
<rect x="90.98" y="51.33" width="7.00" height="1594.02"/>
<rect x="2194.02" y="48.48" width="7.00" height="1576.91"/>
<rect x="97.98" y="48.48" width="2103.04" height="5.70"/>
<rect x="72.20" y="1619.69" width="2128.81" height="5.70"/>
<rect x="91.00" y="1620.69" width="7.00" height="24.06"/>
<rect x="616.00" y="1620.69" width="7.00" height="24.06"/>
<rect x="1134.70" y="1620.69" width="7.00" height="24.06"/>
<rect x="1660.30" y="1620.69" width="7.00" height="24.06"/>
<rect x="2182.50" y="1620.69" width="7.00" height="24.06"/>
<rect x="265.90" y="1620.69" width="7.00" height="21.41"/>
<rect x="441.00" y="1620.69" width="7.00" height="21.41"/>
<rect x="787.90" y="1620.69" width="7.00" height="21.41"/>
<rect x="963.30" y="1620.69" width="7.00" height="21.41"/>
<rect x="1313.70" y="1620.69" width="7.00" height="21.41"/>
<rect x="1484.90" y="1620.69" width="7.00" height="21.41"/>
<rect x="1831.90" y="1620.69" width="7.00" height="21.41"/>
<rect x="2007.00" y="1620.69" width="7.00" height="21.41"/>
<rect x="83.2" y="1053" width="9" height="6.2"/>
</g>
<defs>
<filter id="ct" x="0" y="0" width="2264" height="1825" filterUnits="userSpaceOnUse" color-interpolation-filters="sRGB">
<feOffset in="SourceAlpha" dx="-2.4" result="l2"/>
<feOffset in="SourceAlpha" dx="2.4" result="r2"/>
<feOffset in="SourceAlpha" dx="-0.4" result="l1"/>
<feOffset in="SourceAlpha" dx="0.4" result="r1"/>
<feOffset in="SourceAlpha" dx="-1.4" result="lc"/>
<feOffset in="SourceAlpha" dx="1.4" result="rc"/>
<feComposite in="lc" in2="rc" operator="in" result="core"/>
<feComposite in="l1" in2="rc" operator="out" result="l1m"/>
<feComposite in="r1" in2="lc" operator="out" result="r1m"/>
<feFlood flood-color="#ffd98a"/><feComposite in2="l2" operator="in" result="l2c"/>
<feFlood flood-color="#6ab8ff"/><feComposite in2="r2" operator="in" result="r2c"/>
<feFlood flood-color="#8a2c00"/><feComposite in2="l1m" operator="in" result="l1c"/>
<feFlood flood-color="#0c2488"/><feComposite in2="r1m" operator="in" result="r1c"/>
<feMerge><feMergeNode in="l2c"/><feMergeNode in="r2c"/><feMergeNode in="l1c"/><feMergeNode in="r1c"/><feMergeNode in="core"/></feMerge>
</filter>
</defs>
<g id="labels" fill="#000" filter="url(#ct)">
<text transform="translate(168.90 444.80) scale(1.2840 1)" font-family="'Liberation Serif', serif" font-weight="normal" font-size="67.50" >(a)</text>
<text transform="translate(168.41 969.30) scale(1.2860 1)" font-family="'Liberation Serif', serif" font-weight="normal" font-size="67.20" >(b)</text>
<text transform="translate(168.40 1419.00) scale(1.2921 1)" font-family="'Liberation Serif', serif" font-weight="normal" font-size="67.00" >(c)</text>
<text transform="translate(1203.15 125.80) scale(1.4786 1)" font-family="'Liberation Serif', serif" font-weight="bold" font-size="49.40" >O 1s</text>
<text transform="translate(1518.69 384.00) scale(1.4154 1)" font-family="'Liberation Serif', serif" font-weight="bold" font-size="49.60" >Ca 2p</text>
<text transform="translate(1650.21 517.40) scale(1.4480 1)" font-family="'Liberation Serif', serif" font-weight="bold" font-size="49.60" >C 1s</text>
<text transform="translate(1909.31 580.80) scale(1.4632 1)" font-family="'Liberation Serif', serif" font-weight="bold" font-size="49.60" >P 2p</text>
<text transform="translate(22.18 1688.20) scale(1.2914 1)" font-family="'Liberation Sans', sans-serif" font-weight="normal" font-size="49.80" >1200</text>
<text transform="translate(561.96 1688.20) scale(1.3100 1)" font-family="'Liberation Sans', sans-serif" font-weight="normal" font-size="49.80" >900</text>
<text transform="translate(1082.33 1688.20) scale(1.3141 1)" font-family="'Liberation Sans', sans-serif" font-weight="normal" font-size="49.80" >600</text>
<text transform="translate(1606.21 1688.20) scale(1.3008 1)" font-family="'Liberation Sans', sans-serif" font-weight="normal" font-size="49.80" >300</text>
<text transform="translate(2165.12 1688.20) scale(1.2471 1)" font-family="'Liberation Sans', sans-serif" font-weight="normal" font-size="49.80" >0</text>
<text transform="translate(853.06 1757.40) scale(1.3154 1)" font-family="'Liberation Sans', sans-serif" font-weight="normal" font-size="49.80" >Binding Energy (eV)</text>
</g>
</svg>
</body>
</html>
